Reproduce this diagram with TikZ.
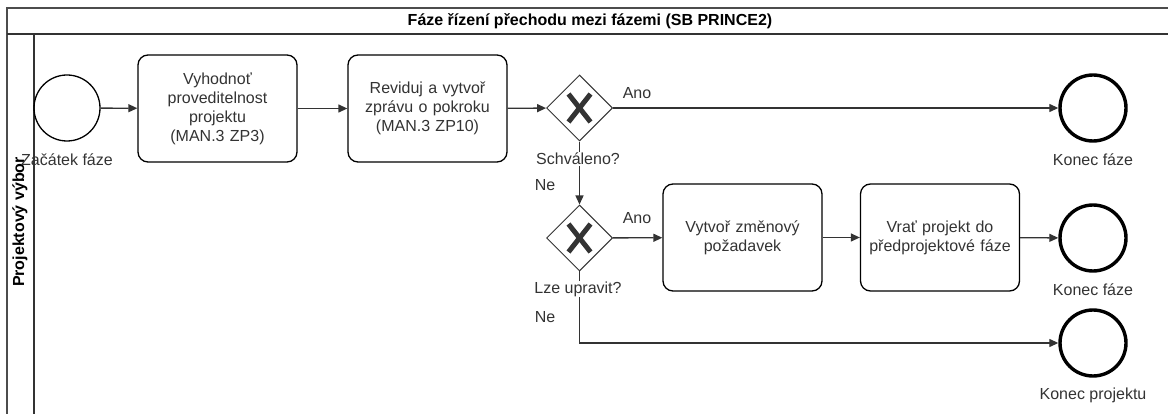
\documentclass[tikz,border=0pt]{standalone}
\usepackage{fontspec}
\setmainfont{Liberation Sans}
\usetikzlibrary{shapes.geometric,arrows.meta}

\begin{document}
\begin{tikzpicture}[x=1pt,y=-1pt,font=\fontsize{16}{19}\selectfont,line width=1.3pt,
  evstart/.style={circle,draw,minimum size=66pt,inner sep=0pt},
  evend/.style={circle,draw,line width=3.4pt,minimum size=66pt,inner sep=0pt},
  task/.style={draw,rounded corners=10pt,minimum width=159pt,minimum height=107pt,
    text width=152pt,align=center,inner sep=0pt,text=black!80},
  gateway/.style={diamond,draw=black!80,line width=1pt,minimum size=66pt,inner sep=0pt,
    path picture={
      \draw[line width=5pt] ([shift={(-11pt,-14pt)}]path picture bounding box.center)
        -- ([shift={(11pt,14pt)}]path picture bounding box.center);
      \draw[line width=5pt] ([shift={(-11pt,14pt)}]path picture bounding box.center)
        -- ([shift={(11pt,-14pt)}]path picture bounding box.center);}},
  flow/.style={draw=black!80,-{Triangle[length=9pt,width=8pt]}},
  lbl/.style={inner sep=1pt,text=black!80},
  gwlbl/.style={lbl,fill=white}]
\useasboundingbox (0,0) rectangle (1168,414);
% pool and lane
\draw[black!70] (7,414) -- (7,8) -- (1168,8);
\draw[black!80,line width=2pt] (7,34) -- (1168,34);
\draw[black!80] (34,34) -- (34,414);
\node[font=\fontsize{16}{19}\selectfont\bfseries] (pool) at (590,21) {Fáze řízení přechodu mezi fázemi (SB PRINCE2)};
\node[font=\fontsize{16}{19}\selectfont\bfseries,rotate=90] (lane) at (20,222) {Projektový výbor};
% first row
\node[evstart] (start) at (67,108) {};
\node[lbl] (startlbl) at (67,160) {Začátek fáze};
\node[task] (eval) at (217.5,108.5) {Vyhodnoť\\proveditelnost\\projektu\\(MAN.3 ZP3)};
\node[task] (review) at (427.5,108.5) {Reviduj a vytvoř\\zprávu o pokroku\\(MAN.3 ZP10)};
\node[gateway] (approved) at (579.5,108) {};
\node[evend] (endphase) at (1093,108) {};
\node[lbl] (endphaselbl) at (1093,160) {Konec fáze};
% second row
\node[gateway] (fixable) at (579.5,238) {};
\node[task] (change) at (742.5,237.5) {Vytvoř změnový\\požadavek};
\node[task] (back) at (940,237.5) {Vrať projekt do\\předprojektové fáze};
\node[evend] (endphaseb) at (1093,238) {};
\node[lbl] (endphaseblbl) at (1093,290) {Konec fáze};
\node[evend] (endproj) at (1093,343) {};
\node[lbl] (endprojlbl) at (1093,395) {Konec projektu};
% flows
\draw[flow] (start) -- (eval);
\draw[flow] (eval) -- (review);
\draw[flow] (review) -- (approved);
\draw[flow] (approved) -- (endphase);
\draw[flow] (approved) -- (fixable);
\draw[flow] (fixable) -- (change);
\draw[flow] (change) -- (back);
\draw[flow] (back) -- (endphaseb);
\draw[flow] (fixable.south) |- (endproj);
% gateway labels
\node[lbl] (yes1) at (637,93) {Ano};
\node[gwlbl] (q1) at (578,159) {Schváleno?};
\node[lbl] (no1) at (545,185) {Ne};
\node[lbl] (yes2) at (637,218) {Ano};
\node[gwlbl] (q2) at (578,289) {Lze upravit?};
\node[lbl] (no2) at (545,317) {Ne};
\end{tikzpicture}
\end{document}
